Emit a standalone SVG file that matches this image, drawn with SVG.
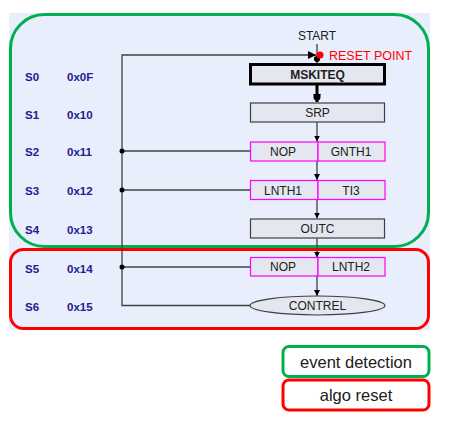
<svg xmlns="http://www.w3.org/2000/svg" width="454" height="423" viewBox="0 0 454 423">
<defs>
<style>
.lbl{font-family:"Liberation Sans",Arial,sans-serif;font-size:11.5px;font-weight:bold;fill:#202090}
.box{fill:#E4E7EF;stroke:#404040;stroke-width:1.2}
.mbox{fill:#E4E7EF;stroke:#FF00FF;stroke-width:1.2}
.t{font-family:"Liberation Sans",Arial,sans-serif;font-size:12px;fill:#202020;text-anchor:middle}
.ln{stroke:#404040;stroke-width:1.3;fill:none}
.leg{font-family:"Liberation Sans",Arial,sans-serif;font-size:16.5px;fill:#202020;text-anchor:middle}
</style>
<marker id="ah" viewBox="0 0 10 10" refX="10" refY="5" markerWidth="6" markerHeight="6" orient="auto" markerUnits="userSpaceOnUse">
<path d="M0,0 L10,5 L0,10 z" fill="#000"/>
</marker>
<marker id="ahb" viewBox="0 0 10 10" refX="10" refY="5" markerWidth="8" markerHeight="8" orient="auto" markerUnits="userSpaceOnUse">
<path d="M0,0 L10,5 L0,10 z" fill="#000"/>
</marker>
</defs>
<rect x="9" y="13" width="421" height="317" fill="#E8EEFC"/>
<g id="group-event">
<rect x="10.5" y="14.5" width="418" height="232" rx="34" ry="34" fill="none" stroke="#00B050" stroke-width="3"/>
</g>
<g id="group-reset">
<rect x="10.5" y="249.5" width="418" height="79" rx="13" ry="13" fill="none" stroke="#FF0000" stroke-width="3"/>
</g>
<g id="labels">
<text class="lbl" x="25" y="81">S0</text><text class="lbl" x="67" y="81">0x0F</text>
<text class="lbl" x="25" y="119">S1</text><text class="lbl" x="67" y="119">0x10</text>
<text class="lbl" x="25" y="156">S2</text><text class="lbl" x="67" y="156">0x11</text>
<text class="lbl" x="25" y="195">S3</text><text class="lbl" x="67" y="195">0x12</text>
<text class="lbl" x="25" y="234">S4</text><text class="lbl" x="67" y="234">0x13</text>
<text class="lbl" x="25" y="273">S5</text><text class="lbl" x="67" y="273">0x14</text>
<text class="lbl" x="25" y="311">S6</text><text class="lbl" x="67" y="311">0x15</text>
</g>
<g id="connectors">
<line class="ln" x1="317" y1="44" x2="317" y2="63" marker-end="url(#ah)"/>
<polyline class="ln" points="250,305.5 122,305.5 122,55 316,55" marker-end="url(#ahb)"/>
<line x1="317" y1="85" x2="317" y2="102" stroke="#000" stroke-width="3" marker-end="url(#ahb)"/>
<circle cx="317" cy="97" r="3.5" fill="#000"/>
<circle cx="317" cy="59" r="3" fill="#000"/>
<line class="ln" x1="317" y1="122" x2="317" y2="141.5" marker-end="url(#ah)"/>
<line class="ln" x1="317" y1="161" x2="317" y2="180" marker-end="url(#ah)"/>
<line class="ln" x1="317" y1="199.5" x2="317" y2="218.5" marker-end="url(#ah)"/>
<line class="ln" x1="317" y1="238.5" x2="317" y2="257.5" marker-end="url(#ah)"/>
<line class="ln" x1="317" y1="276" x2="317" y2="296" marker-end="url(#ah)"/>
<line class="ln" x1="122" y1="151" x2="250" y2="151"/>
<line class="ln" x1="122" y1="190" x2="250" y2="190"/>
<line class="ln" x1="122" y1="267" x2="250" y2="267"/>
<circle cx="122" cy="151" r="2.5" fill="#000"/>
<circle cx="122" cy="190" r="2.5" fill="#000"/>
<circle cx="122" cy="267" r="2.5" fill="#000"/>
<circle cx="320" cy="55" r="3.5" fill="#FF0000"/>
</g>
<g id="start">
<text class="t" x="317" y="40">START</text>
<text x="329" y="60" font-family="Liberation Sans,Arial,sans-serif" font-size="12.5" fill="#FF0000">RESET POINT</text>
</g>
<g id="MSKITEQ">
<rect x="250.5" y="64.5" width="134" height="19.5" fill="#E4E7EF" stroke="#000" stroke-width="3"/>
<text class="t" x="317.5" y="79" font-weight="bold">MSKITEQ</text>
</g>
<g id="SRP">
<rect class="box" x="250.5" y="103" width="134" height="19"/>
<text class="t" x="317.5" y="117">SRP</text>
</g>
<g id="S2">
<rect class="mbox" x="250.5" y="142" width="67.5" height="19"/>
<rect class="mbox" x="318" y="142" width="67" height="19"/>
<text class="t" x="283" y="156">NOP</text>
<text class="t" x="351" y="156">GNTH1</text>
</g>
<g id="S3">
<rect class="mbox" x="250.5" y="180.5" width="67.5" height="19"/>
<rect class="mbox" x="318" y="180.5" width="67" height="19"/>
<text class="t" x="283" y="194.5">LNTH1</text>
<text class="t" x="351" y="194.5">TI3</text>
</g>
<g id="OUTC">
<rect class="box" x="250.5" y="219" width="134" height="19"/>
<text class="t" x="317.5" y="233">OUTC</text>
</g>
<g id="S5">
<rect class="mbox" x="250.5" y="257.5" width="67.5" height="18.5"/>
<rect class="mbox" x="318" y="257.5" width="67" height="18.5"/>
<text class="t" x="283" y="271">NOP</text>
<text class="t" x="351" y="271">LNTH2</text>
</g>
<g id="CONTREL">
<ellipse cx="317.5" cy="305.5" rx="67.5" ry="9.5" fill="#E4E7EF" stroke="#404040" stroke-width="1.2"/>
<text class="t" x="317.5" y="310">CONTREL</text>
</g>
<g id="legend-event">
<rect x="283" y="346.5" width="146" height="30" rx="6" fill="#fff" stroke="#00B050" stroke-width="3"/>
<text class="leg" x="356" y="367.5">event detection</text>
</g>
<g id="legend-reset">
<rect x="283" y="380" width="146" height="30" rx="6" fill="#fff" stroke="#FF0000" stroke-width="3"/>
<text class="leg" x="356" y="401">algo reset</text>
</g>
</svg>
